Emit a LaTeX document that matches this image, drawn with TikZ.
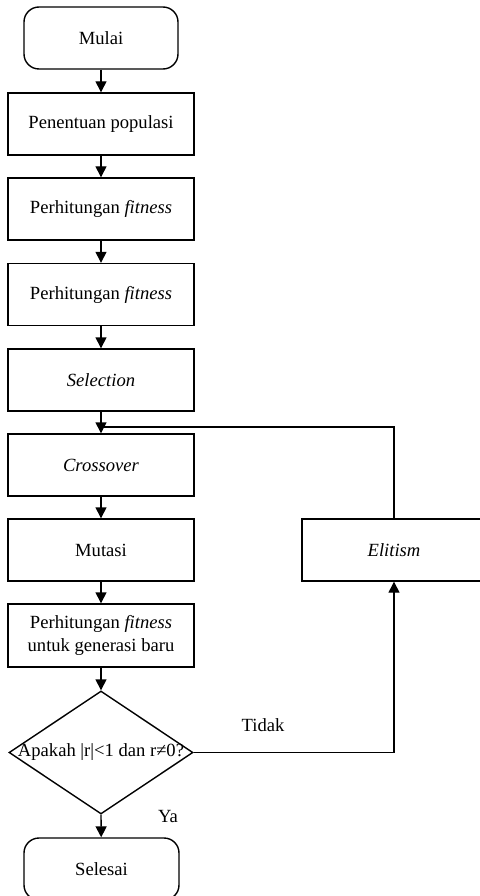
\documentclass[tikz,border=0pt]{standalone}
\usepackage{fontspec}
\setmainfont{Liberation Serif}
\usetikzlibrary{shapes.geometric,arrows.meta}
\begin{document}
\begin{tikzpicture}[x=1pt,y=1pt,
  every node/.style={font=\fontsize{18.6}{22}\selectfont},
  box/.style={draw,line width=1.4pt,minimum width=186pt,minimum height=62pt,inner sep=0pt,align=center},
  term/.style={draw,line width=1.4pt,rounded corners=15pt,minimum width=154pt,minimum height=62pt,inner sep=0pt},
  link/.style={line width=1.4pt},
  arr/.style={link,-{Triangle[width=11pt,length=11pt]}}]
\useasboundingbox (0,0) rectangle (479,-896);
\node[term] (mulai) at (101,-38) {Mulai};
\node[box] (pen) at (101,-124) {Penentuan populasi};
\node[box] (pf1) at (101,-209) {Perhitungan \textit{fitness}};
\node[box] (pf2) at (101,-294.5) {Perhitungan \textit{fitness}};
\node[box] (sel) at (101,-380) {\textit{Selection}};
\node[box] (cro) at (101,-465) {\textit{Crossover}};
\node[box] (mut) at (101,-550) {Mutasi};
\node[box,minimum height=63pt,font=\fontsize{18.6}{23}\selectfont] (pfb) at (101,-635.5) {Perhitungan \textit{fitness}\\untuk generasi baru};
\node[draw,diamond,line width=1.4pt,minimum width=184pt,minimum height=123pt,inner sep=0pt,aspect=1.5] (dec) at (101,-752.5) {};
\node (dect) at (101,-752.5) {Apakah |r|<1 dan r≠0?};
\node[term,minimum width=155pt] (sls) at (101.5,-869) {Selesai};
\node[box,minimum width=184pt] (eli) at (394,-550) {\textit{Elitism}};
\node (tidak) at (263,-725) {Tidak};
\node (ya) at (168,-816) {Ya};
\coordinate (join) at (101,-427);
\coordinate (ret) at (394,-427);
\coordinate (corner) at (394,-752.5);

\draw[arr] (mulai) -- (pen);
\draw[arr] (pen) -- (pf1);
\draw[arr] (pf1) -- (pf2);
\draw[arr] (pf2) -- (sel);
\draw[arr] (sel) -- (cro);
\draw[arr] (cro) -- (mut);
\draw[arr] (mut) -- (pfb);
\draw[arr] (pfb) -- (dec.north);
\draw[arr] (dec.south) -- (sls);
\draw[arr] (dec.east) -- (corner) -- (eli.south);
\draw[link] (eli.north) -- (ret) -- (join);
\end{tikzpicture}
\end{document}
